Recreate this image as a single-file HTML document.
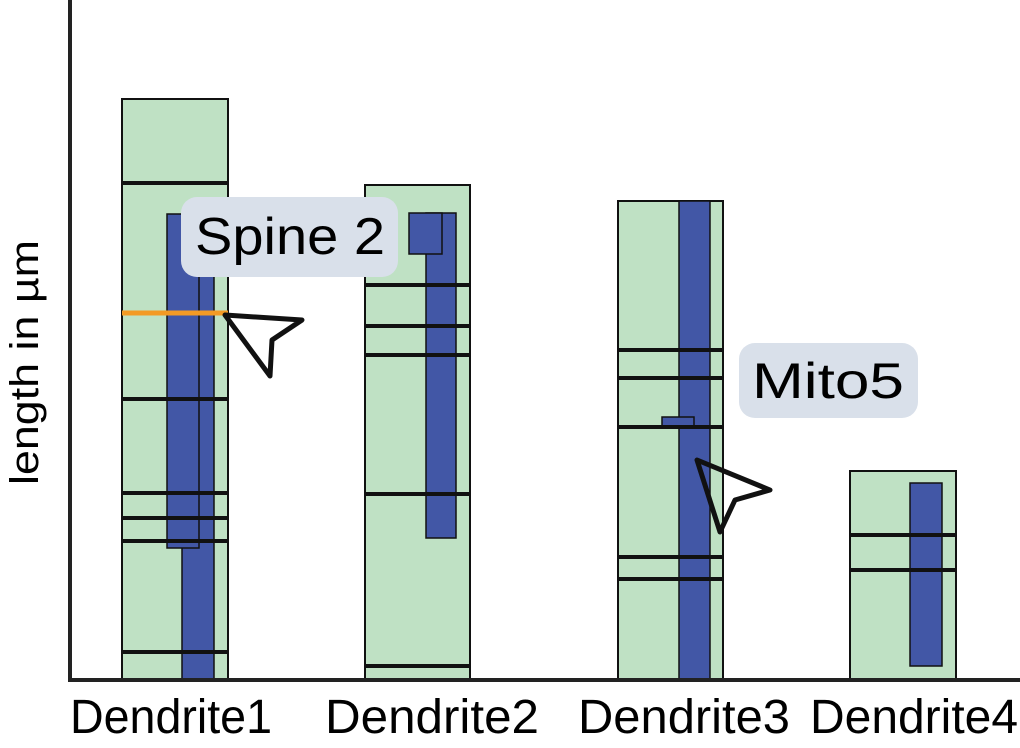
<!DOCTYPE html>
<html><head><style>html,body{margin:0;padding:0;background:#fff;}svg{display:block}</style></head>
<body>
<svg width="1020" height="748" viewBox="0 0 1020 748" xmlns="http://www.w3.org/2000/svg" font-family="Liberation Sans, sans-serif">
<g stroke="#111" stroke-width="2">
<rect x="122" y="99" width="106" height="581" fill="#bfe1c4"/>
<rect x="182" y="214" width="32" height="466" fill="#4257a6" stroke-width="1.5"/>
<rect x="167" y="214" width="32" height="334" fill="#4257a6" stroke-width="1.5"/>
<rect x="365" y="185" width="105" height="495" fill="#bfe1c4"/>
<rect x="426" y="213" width="30" height="325" fill="#4257a6" stroke-width="1.5"/>
<rect x="409" y="213" width="33" height="41" fill="#4257a6" stroke-width="1.5"/>
<rect x="618" y="201" width="105" height="479" fill="#bfe1c4"/>
<rect x="679" y="201" width="31" height="479" fill="#4257a6" stroke-width="1.5"/>
<rect x="662" y="417" width="32" height="10" fill="#4257a6" stroke-width="1.5"/>
<rect x="850" y="471" width="106" height="209" fill="#bfe1c4"/>
<rect x="910" y="483" width="32" height="183" fill="#4257a6" stroke-width="1.5"/>
</g>
<g stroke="#111" stroke-width="4">
<line x1="122" x2="228" y1="183" y2="183"/>
<line x1="122" x2="228" y1="399" y2="399"/>
<line x1="122" x2="228" y1="493" y2="493"/>
<line x1="122" x2="228" y1="518" y2="518"/>
<line x1="122" x2="228" y1="541" y2="541"/>
<line x1="122" x2="228" y1="652" y2="652"/>
<line x1="365" x2="470" y1="285" y2="285"/>
<line x1="365" x2="470" y1="326" y2="326"/>
<line x1="365" x2="470" y1="355" y2="355"/>
<line x1="365" x2="470" y1="494" y2="494"/>
<line x1="365" x2="470" y1="666" y2="666"/>
<line x1="618" x2="723" y1="350" y2="350"/>
<line x1="618" x2="723" y1="378" y2="378"/>
<line x1="618" x2="723" y1="427" y2="427"/>
<line x1="618" x2="723" y1="557" y2="557"/>
<line x1="618" x2="723" y1="579" y2="579"/>
<line x1="850" x2="956" y1="535" y2="535"/>
<line x1="850" x2="956" y1="570" y2="570"/>
</g>
<line x1="122" x2="228" y1="313" y2="313" stroke="#f39a25" stroke-width="5"/>
<path d="M70 0 V680 H1020" fill="none" stroke="#222" stroke-width="4"/>
<rect x="181" y="197" width="217" height="80" rx="16" fill="#d9e0ea"/>
<text x="195" y="254" font-size="52" fill="#000" textLength="190" lengthAdjust="spacingAndGlyphs">Spine 2</text>
<rect x="739" y="343" width="179" height="75" rx="16" fill="#d9e0ea"/>
<text x="752" y="398" font-size="50" fill="#000" textLength="152" lengthAdjust="spacingAndGlyphs">Mito5</text>
<polygon points="225,315 302,320 272,340 270,376" fill="#fff" stroke="#111" stroke-width="5" stroke-linejoin="round"/>
<polygon points="697,460 770,490 735,500 720,532" fill="none" stroke="#111" stroke-width="5" stroke-linejoin="round"/>
<g font-size="48" fill="#000">
<text x="70" y="733" textLength="202" lengthAdjust="spacingAndGlyphs">Dendrite1</text>
<text x="325" y="733" textLength="214" lengthAdjust="spacingAndGlyphs">Dendrite2</text>
<text x="578" y="733" textLength="212" lengthAdjust="spacingAndGlyphs">Dendrite3</text>
<text x="810" y="733" textLength="208" lengthAdjust="spacingAndGlyphs">Dendrite4</text>
</g>
<text transform="translate(38,485) rotate(-90)" font-size="40" fill="#000" textLength="245" lengthAdjust="spacingAndGlyphs">length in µm</text>
</svg>
</body></html>
